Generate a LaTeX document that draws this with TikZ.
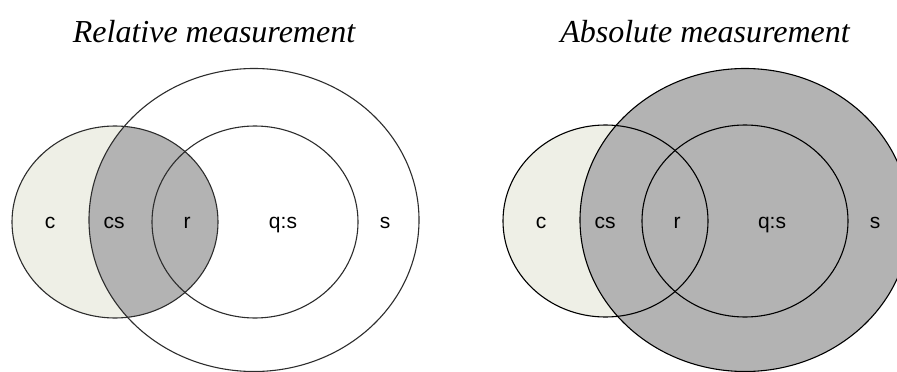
\documentclass[tikz,border=0pt]{standalone}
\usepackage{fontspec}
\setmainfont{Liberation Serif}
\setsansfont{Liberation Sans}
\definecolor{lightc}{RGB}{238,239,230}
\definecolor{midgray}{RGB}{179,179,179}
\definecolor{softline}{RGB}{45,45,45}
\begin{document}
\begin{tikzpicture}[x=1pt,y=-1pt,
  title/.style={font=\fontsize{32}{38}\selectfont\itshape, anchor=base, inner sep=0pt},
  lab/.style={font=\sffamily\fontsize{21}{25}\selectfont, anchor=base, inner sep=0pt},
  leftline/.style={draw=softline, line width=1.1pt},
  rightline/.style={draw=black, line width=1.1pt}]
\useasboundingbox (0,0) rectangle (897,372);
\fill[white] (0,0) rectangle (897,372);
% titles
\node[title] (t1) at (214,42) {Relative measurement};
\node[title] (t2) at (705,42) {Absolute measurement};
% ---------- left panel ----------
\fill[lightc] (115,222) ellipse [x radius=103pt, y radius=96pt];
\begin{scope}
  \clip (254,220) ellipse [x radius=165pt, y radius=152pt];
  \fill[midgray] (115,222) ellipse [x radius=103pt, y radius=96pt];
\end{scope}
\draw[leftline] (115,222) ellipse [x radius=103pt, y radius=96pt];
\draw[leftline] (254,220) ellipse [x radius=165pt, y radius=151.5pt];
\draw[leftline] (255,222) ellipse [x radius=103pt, y radius=96pt];
\node[lab] (lc) at (50,228) {c};
\node[lab] (lcs) at (114,228) {cs};
\node[lab] (lr) at (187,228) {r};
\node[lab] (lqs) at (283,228) {q:s};
\node[lab] (ls) at (385,228) {s};
% ---------- right panel ----------
\fill[lightc] (605.5,221) ellipse [x radius=102.5pt, y radius=96pt];
\fill[midgray] (745,220) ellipse [x radius=165pt, y radius=151.5pt];
\draw[rightline] (605.5,221) ellipse [x radius=102.5pt, y radius=96pt];
\draw[rightline] (745,220) ellipse [x radius=165pt, y radius=151.5pt];
\draw[rightline] (745,221) ellipse [x radius=103pt, y radius=96pt];
\node[lab] (rc) at (541,228) {c};
\node[lab] (rcs) at (605,228) {cs};
\node[lab] (rr) at (677,228) {r};
\node[lab] (rqs) at (772,228) {q:s};
\node[lab] (rs) at (875,228) {s};
\end{tikzpicture}
\end{document}
